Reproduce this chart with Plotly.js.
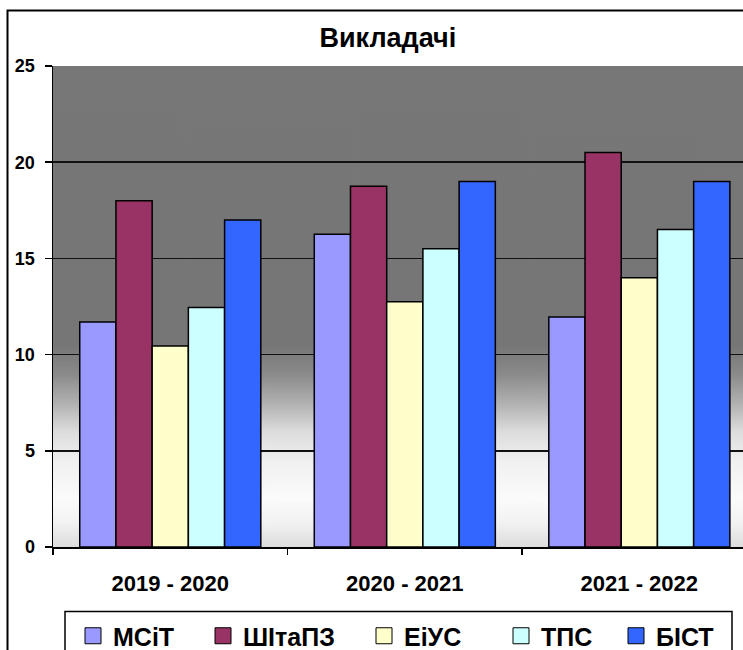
<!DOCTYPE html>
<html>
<head>
<meta charset="utf-8">
<script src="https://cdn.plot.ly/plotly-3.0.1.min.js"></script>
<style>
html,body{margin:0;padding:0;background:#fff;}
#chart{width:743px;height:650px;}
</style>
</head>
<body>
<div id="chart"></div>
<script>
// ---- data ----
const years = ["2019 - 2020", "2020 - 2021", "2021 - 2022"];
const seriesNames = ["МСіТ", "ШІтаПЗ", "ЕіУС", "ТПС", "БІСТ"];
const msit   = [11.7, 16.25, 11.95];
const shtapz = [18.0, 18.75, 20.5];
const eius   = [10.45, 12.75, 14.0];
const tps    = [12.45, 15.5, 16.5];
const bist   = [17.0, 19.0, 19.0];
const colors = ["#9999FF", "#993366", "#FFFFCC", "#CCFFFF", "#3366FF"];
const yTicks = [0, 5, 10, 15, 20, 25];

const values = [msit, shtapz, eius, tps, bist];
const FONT = "Liberation Sans, Arial, sans-serif";

// plot-area geometry (pixels)
const L = 53, T = 66, PW = 690, PH = 481;
const legendKeyLeft = [87, 217, 378, 515, 630]; // legend entry positions (px)

// background gradient for the plot area
function gradientURL() {
  const c = document.createElement('canvas');
  c.width = 8; c.height = 481;
  const g = c.getContext('2d');
  const lg = g.createLinearGradient(0, 0, 0, 481);
  lg.addColorStop(0.00, '#777777');
  lg.addColorStop(0.58, '#767676');
  lg.addColorStop(0.64, '#8a8a8a');
  lg.addColorStop(0.70, '#b0b0b0');
  lg.addColorStop(0.76, '#dcdcdc');
  lg.addColorStop(0.82, '#f0f0f0');
  lg.addColorStop(0.90, '#fbfbfb');
  lg.addColorStop(0.95, '#f2f2f2');
  lg.addColorStop(1.00, '#dcdcdc');
  g.fillStyle = lg;
  g.fillRect(0, 0, 8, 481);
  return c.toDataURL();
}

const legendIds = ['legend', 'legend2', 'legend3', 'legend4', 'legend5'];

const traces = [];
seriesNames.forEach((n, i) => {
  traces.push({
    type: 'bar', name: n, x: years, y: values[i],
    marker: {color: colors[i], line: {color: '#000', width: 1.5}},
    showlegend: false, hoverinfo: 'x+y+name'
  });
});
seriesNames.forEach((n, i) => {
  traces.push({
    type: 'scatter', mode: 'markers', name: n, x: [null], y: [null],
    marker: {symbol: 'square', size: 16, color: colors[i], line: {color: '#000', width: 1}},
    showlegend: true, hoverinfo: 'skip', legend: legendIds[i]
  });
});

const layout = {
  width: 743, height: 650,
  margin: {l: L, r: 0, t: T, b: 103, autoexpand: false},
  paper_bgcolor: '#fff', plot_bgcolor: 'rgba(0,0,0,0)',
  font: {family: FONT, color: '#000', weight: 700},
  title: {text: 'Викладачі', font: {family: FONT, size: 27, weight: 700, color: '#000'},
          x: 0.522, xanchor: 'center', xref: 'container', y: 0.943, yanchor: 'middle'},
  barmode: 'group', bargap: 0.228, bargroupgap: 0,
  xaxis: {
    type: 'category', range: [-0.5, 2.442],
    showline: true, linecolor: '#000', linewidth: 1.5,
    ticks: 'outside', tickson: 'boundaries', ticklen: 6, tickcolor: '#000', tickwidth: 1.5,
    showgrid: false, zeroline: false,
    tickfont: {family: FONT, size: 22, weight: 700, color: '#000'},
    ticklabelstandoff: 16, fixedrange: true
  },
  yaxis: {
    range: [0, 25], tickvals: yTicks, ticktext: yTicks.map(String),
    showline: true, linecolor: '#000', linewidth: 1.5,
    ticks: 'outside', ticklen: 7, tickcolor: '#000', tickwidth: 1.5,
    showgrid: true, gridcolor: '#111', gridwidth: 1.6, zeroline: false,
    tickfont: {family: FONT, size: 18, weight: 700, color: '#000'},
    ticklabelstandoff: 6, fixedrange: true
  },
  images: [{
    source: gradientURL(), xref: 'paper', yref: 'paper',
    x: 0, y: 1, sizex: 1, sizey: 1, sizing: 'stretch', layer: 'below',
    xanchor: 'left', yanchor: 'top'
  }],
  shapes: [
    { // outer chart border
      type: 'rect', xref: 'paper', yref: 'paper',
      x0: (7.5 - L) / PW, x1: 1.1, y0: -0.4, y1: (T + PH - 10.5) / PH,
      line: {color: '#000', width: 2}, fillcolor: 'rgba(0,0,0,0)', layer: 'above'
    },
    { // legend box
      type: 'rect', xref: 'paper', yref: 'paper',
      x0: (65 - L) / PW, x1: (732 - L) / PW, y0: -0.4, y1: (T + PH - 611.5) / PH,
      line: {color: '#000', width: 1.5}, fillcolor: 'rgba(0,0,0,0)', layer: 'above'
    }
  ],
  showlegend: true
};

legendIds.forEach((id, i) => {
  layout[id] = {
    orientation: 'h', x: (legendKeyLeft[i] - 14 - L) / PW, xanchor: 'left',
    y: (T + PH - 613) / PH, yanchor: 'top',
    borderwidth: 0, bgcolor: 'rgba(0,0,0,0)',
    font: {family: FONT, size: 25, weight: 700, color: '#000'}
  };
});

Plotly.newPlot('chart', traces, layout, {displayModeBar: false, staticPlot: true});
</script>
</body>
</html>
